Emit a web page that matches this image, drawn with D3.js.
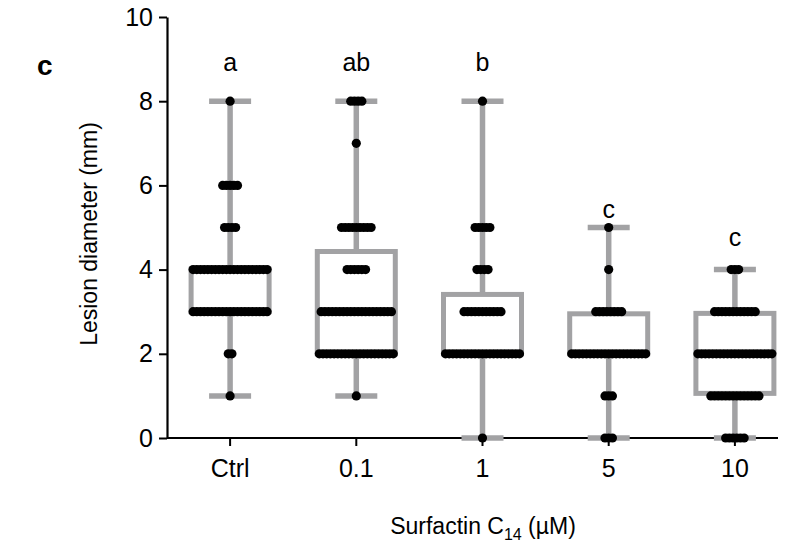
<!DOCTYPE html>
<html>
<head>
<meta charset="UTF-8">
<title>Lesion diameter</title>
<script src="https://d3js.org/d3.v7.min.js"></script>
<style>
  body { margin: 0; background: #fff; }
  text { font-family: "Liberation Sans", Arial, sans-serif; }
</style>
</head>
<body>
<div id="chart"></div>
<script>
// groups on the x axis
const groups = ["Ctrl", "0.1", "1", "5", "10"];

// number of points at each lesion diameter (0..8 mm), one array per group
const dotLevels = [0, 1, 2, 3, 4, 5, 6, 7, 8];
const countsCtrl = [0, 1, 2, 21, 21, 4, 5, 0, 1];
const counts01   = [0, 1, 21, 20, 6, 9, 0, 1, 4];
const counts1    = [1, 0, 21, 11, 4, 5, 0, 0, 1];
const counts5    = [3, 3, 21, 8, 1, 1, 0, 0, 0];
const counts10   = [6, 14, 21, 12, 3, 0, 0, 0, 0];
const allCounts = [countsCtrl, counts01, counts1, counts5, counts10];

// box plot statistics
const whiskerLow  = [1, 1, 0, 0, 0];
const q1          = [3, 2, 2, 2, 1.06];
const medians     = [4, 3, 2, 2, 2];
const q3          = [4, 4.43, 3.41, 2.95, 2.96];
const whiskerHigh = [8, 8, 8, 5, 4];

// significance letters and the level they sit at
const letters   = ["a", "ab", "b", "c", "c"];
const letterPos = [8.72, 8.72, 8.72, 5.23, 4.56];

const yTicks = [0, 2, 4, 6, 8, 10];

const W = 797, H = 553;
const grey = "#a2a2a4";

const svg = d3.select("#chart").append("svg")
  .attr("width", W).attr("height", H);

const x = d3.scaleBand().domain(groups).range([167, 798]).padding(0);
const y = d3.scaleLinear().domain([0, 10]).range([438, 17]);
const cx = g => x(g) + x.bandwidth() / 2;

// y axis
const yAxis = svg.append("g")
  .attr("transform", "translate(167,0)")
  .call(d3.axisLeft(y).tickValues(yTicks).tickSize(8).tickSizeOuter(0).tickPadding(6));
yAxis.select(".domain").attr("stroke-width", 2.2);
yAxis.selectAll(".tick line").attr("stroke-width", 2);
yAxis.selectAll(".tick text").attr("font-size", 25)
  .attr("font-family", "'Liberation Sans', Arial, sans-serif").attr("fill", "#000");

// x axis
const xAxis = svg.append("g")
  .attr("transform", "translate(0,438)")
  .call(d3.axisBottom(x).tickSize(8).tickSizeOuter(0));
xAxis.select(".domain").attr("d", "M167,0H778").attr("stroke-width", 2.2);
xAxis.selectAll(".tick line").attr("stroke-width", 2);
xAxis.selectAll(".tick text").attr("font-size", 25).attr("y", 21)
  .attr("font-family", "'Liberation Sans', Arial, sans-serif").attr("fill", "#000");

const boxW = 78, capW = 42;
const plot = svg.append("g");

groups.forEach((g, i) => {
  const c = cx(g);
  const grp = plot.append("g");
  // whiskers
  grp.append("line").attr("x1", c).attr("x2", c)
    .attr("y1", y(whiskerLow[i])).attr("y2", y(whiskerHigh[i]))
    .attr("stroke", grey).attr("stroke-width", 5.5);
  [whiskerLow[i], whiskerHigh[i]].forEach(v => {
    grp.append("line").attr("x1", c - capW / 2).attr("x2", c + capW / 2)
      .attr("y1", y(v)).attr("y2", y(v))
      .attr("stroke", grey).attr("stroke-width", 5.5);
  });
  // box
  grp.append("rect")
    .attr("x", c - boxW / 2).attr("width", boxW)
    .attr("y", y(q3[i])).attr("height", y(q1[i]) - y(q3[i]))
    .attr("fill", "#fff").attr("stroke", grey).attr("stroke-width", 5);
  grp.append("line").attr("x1", c - boxW / 2).attr("x2", c + boxW / 2)
    .attr("y1", y(medians[i])).attr("y2", y(medians[i]))
    .attr("stroke", grey).attr("stroke-width", 5);
});

// dots, laid out in horizontal rows centred on each group
const step = 3.7, r = 4.6;
groups.forEach((g, i) => {
  const c = cx(g);
  const pts = [];
  dotLevels.forEach((v, k) => {
    const n = allCounts[i][k];
    for (let j = 0; j < n; j++) pts.push({ v: v, dx: (j - (n - 1) / 2) * step });
  });
  plot.append("g").selectAll("circle").data(pts).join("circle")
    .attr("cx", d => c + d.dx).attr("cy", d => y(d.v))
    .attr("r", r).attr("fill", "#000");
});

// letters
svg.append("g").selectAll("text").data(groups).join("text")
  .attr("x", g => cx(g)).attr("y", (g, i) => y(letterPos[i]))
  .attr("text-anchor", "middle").attr("font-size", 25)
  .text((g, i) => letters[i]);

// axis titles
svg.append("text")
  .attr("transform", "translate(97,234) rotate(-90)")
  .attr("text-anchor", "middle").attr("font-size", 23)
  .text("Lesion diameter (mm)");

const xt = svg.append("text")
  .attr("x", 483).attr("y", 534)
  .attr("text-anchor", "middle").attr("font-size", 23);
xt.append("tspan").text("Surfactin C");
xt.append("tspan").attr("font-size", 16).attr("dy", 6).text("14");
xt.append("tspan").attr("dy", -6).text(" (\u00b5M)");

// panel letter
svg.append("text")
  .attr("x", 37).attr("y", 75)
  .attr("font-size", 28).attr("font-weight", "bold")
  .text("c");
</script>
</body>
</html>
